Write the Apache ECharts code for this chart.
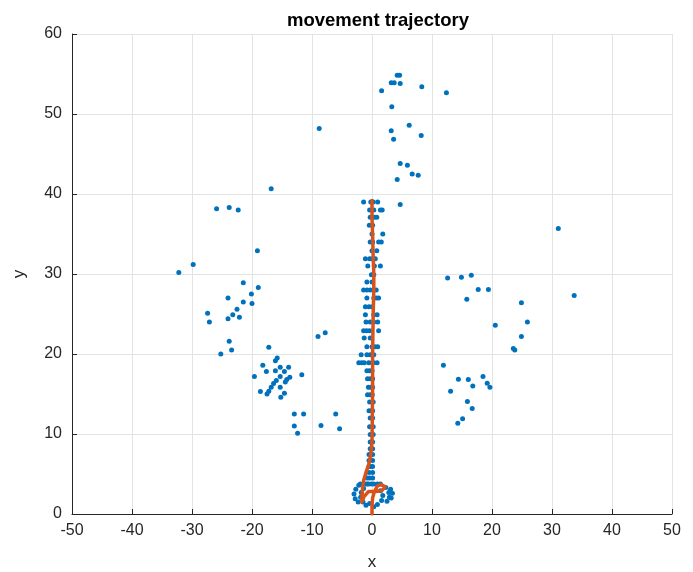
<!DOCTYPE html>
<html>
<head>
<meta charset="utf-8">
<script src="https://cdn.jsdelivr.net/npm/echarts@6/dist/echarts.min.js"></script>
<style>
html,body{margin:0;padding:0;background:#fff;}
#chart{width:693px;height:572px;}
</style>
</head>
<body>
<div id="chart"></div>
<script>
// ---- data ----
const xTicks = [-50,-40,-30,-20,-10,0,10,20,30,40,50];
const yTicks = [0,10,20,30,40,50,60];

const leftX = [-16.8,-25.9,-23.8,-22.3,-19.1,-29.8,-32.2,-21.45,-18.95,-20.1,-24.0,-21.45,-20.0,-22.5,-23.2,-22.1,-24.0,-27.4,-27.1,-23.8,-23.4,-25.2,-17.2,
  -18.2,-15.8,-16.1,-17.6,-16.1,-15.3,-13.9,-14.6,-19.6,-18.6,-11.7,-15.3,-15.95,-16.4,-16.8,-17.2,-17.5,-13.7,-14.2,-14.45,-15.3,-14.6,-15.2,
  -12.95,-11.4,-12.95,-12.4,-8.5,-6.05,-5.4,-8.8,-9.0,-7.8];
const leftY = [40.65,38.15,38.3,38.0,32.9,31.2,30.2,28.9,28.3,27.5,27.0,26.5,26.3,25.6,24.9,24.6,24.4,25.1,24.0,21.6,20.5,20.0,20.85,
  18.6,19.5,19.15,17.8,17.9,18.35,18.35,17.8,17.2,15.3,17.4,17.2,16.7,16.3,15.85,15.35,15.0,17.1,16.8,16.5,15.85,15.1,14.6,
  12.5,12.5,11.0,10.1,11.05,12.5,10.65,48.2,22.2,22.65];

const topX = [4.2,4.6,3.2,3.7,4.7,1.6,8.3,12.4,3.3,6.2,3.2,8.2,3.6,4.7,5.9,6.7,7.7,4.2,4.7];
const topY = [54.85,54.85,53.9,53.9,53.8,52.9,53.4,52.65,50.9,48.6,47.9,47.3,46.85,43.8,43.6,42.5,42.35,41.8,38.7];

const rightX = [31.05,12.6,14.9,16.55,17.7,19.4,15.8,33.7,24.9,25.9,20.55,24.9,23.55,23.8,11.9,14.4,16.05,18.5,19.2,19.65,16.8,13.1,15.9,16.7,15.1,14.3];
const rightY = [35.7,29.5,29.6,29.85,28.05,28.05,26.85,27.3,26.4,24.0,23.6,22.2,20.7,20.5,18.6,16.85,16.8,17.2,16.35,15.85,16.0,15.35,14.05,13.2,11.9,11.35];

const centerX = [-1.4,-0.2,0.2,0.95,
  -0.4,0.3,1.4,1.7,
  -0.3,0.4,0.8,
  -0.45,0.1,
  0,1.8,
  -0.3,0.1,1.1,1.55,
  0,0.8,
  -1.1,-0.4,0,0.55,
  -0.7,0.4,1.4,
  -0.1,0.3,
  -0.85,0,
  -1.4,-0.85,-0.3,0.3,0.7,
  -0.85,0.3,0.7,1.1,
  -1.1,-0.5,0,
  -1.1,0.3,0.85,
  -1.0,-0.3,0.3,0.95,
  -1.4,-0.9,-0.4,1.1,
  -1.3,-0.3,
  -0.85,0,0.5,0.95,
  -1.8,-0.85,-0.3,0.3,
  -2.2,-1.7,-1.3,-0.55,0,0.3,0.85,
  -0.85,-0.4,0,
  -0.75,-0.3,0.1,
  -0.6,-0.2,0.1,
  -0.75,-0.3,0.05,
  -0.4,0.2,
  -0.5,-0.1,0.1,
  -0.3,0.1,
  -0.4,0.2,
  -0.3,0.2,
  -0.3,0.1,
  -0.3,0.1,
  -0.5,-0.2,0.1,
  -0.5,0.1,
  -0.5,-0.2,0.1,
  -0.5,0.1,
  -0.8,-0.4,0.1,
  -1.2,-0.6,-0.1,
  -1.95,-1.4,-0.85,0.3,0.9,1.4,
  -2.2,-2.7,-3.0,-2.8,-2.3,
  -1.4,-1.8,-1.9,-1.5,-1.0,
  2.3,2.8,2.9,2.5,
  1.4,1.8,1.6,
  3.1,3.4,3.2,
  0.3,-0.4,0.9];
const centerY = [39.0,39.0,39.0,39.0,
  38.0,38.0,38.0,38.0,
  37.1,37.1,37.1,
  36.1,36.1,
  35.0,35.0,
  34.0,34.0,34.0,34.0,
  32.9,32.9,
  31.9,31.9,31.9,31.9,
  31.0,31.0,31.0,
  29.9,29.9,
  29.0,29.0,
  28.0,28.0,28.0,28.0,28.0,
  27.0,27.0,27.0,27.0,
  25.9,25.9,25.9,
  24.9,24.9,24.9,
  24.0,24.0,24.0,24.0,
  22.9,22.9,22.9,22.9,
  22.0,22.0,
  20.9,20.9,20.9,20.9,
  19.9,19.9,19.9,19.9,
  18.9,18.9,18.9,18.9,18.9,18.9,18.9,
  17.9,17.9,17.9,
  16.9,16.9,16.9,
  15.85,15.85,15.85,
  14.9,14.9,14.9,
  14.0,14.0,
  12.9,12.9,12.9,
  12.0,12.0,
  10.9,10.9,
  9.95,9.95,
  9.0,9.0,
  8.15,8.15,
  7.45,7.45,7.45,
  6.7,6.7,
  5.95,5.95,5.95,
  5.2,5.2,
  4.5,4.5,4.5,
  3.75,3.75,3.75,
  3.75,3.75,3.75,3.75,3.75,3.75,
  3.6,3.1,2.5,1.9,1.5,
  3.2,2.7,2.1,1.5,1.1,
  3.3,2.7,2.1,1.6,
  2.9,2.3,1.7,
  3.1,2.6,2.0,
  0.9,1.3,1.2];

const trajX = [0,0,0.1,0.4,0.9,1.5,2.2,1.6,0.5,-0.6,-1.3,-1.7,-1.6,-1.4,-1.0,-0.5,-0.2,0,0.05,0.1,0.1,0.2,0.3,0.3,0.2,0.1,0,0];
const trajY = [0,1,2,2.8,3.5,3.7,3.4,2.9,2.8,2.8,2.2,1.5,3.0,4.2,5.2,6.3,7.5,9,12,16,20,25,28,30,32,35,37,39.2];

// ---- build ----
function zip(xs, ys){ return xs.map((v,i)=>[v, ys[i]]); }
const scatterData = zip(leftX,leftY).concat(zip(topX,topY), zip(rightX,rightY), zip(centerX,centerY));
const trajData = zip(trajX,trajY);

const labelColor = '#262626';
const font = 'Liberation Sans, Arial, sans-serif';
const chart = echarts.init(document.getElementById('chart'), null, {renderer:'canvas'});
chart.setOption({
  animation:false,
  backgroundColor:'#ffffff',
  title:{
    text:'movement trajectory',
    left:373, top:6, textAlign:'center',
    textStyle:{fontFamily:font, fontWeight:'bold', fontSize:18.5, color:'#000'}
  },
  grid:{left:72, right:21, top:34, bottom:58, containLabel:false, outerBoundsMode:'none'},
  xAxis:{
    type:'value', min:-50, max:50, interval:10,
    name:'x', nameLocation:'middle', nameGap:40,
    nameTextStyle:{fontFamily:font, fontSize:17, color:labelColor},
    axisLine:{show:true, onZero:false, lineStyle:{color:labelColor, width:1}},
    axisTick:{show:true, inside:true, length:5, lineStyle:{color:labelColor}},
    axisLabel:{margin:9, fontFamily:font, fontSize:16, color:labelColor,
      formatter:function(v){return xTicks.indexOf(v)>=0 ? String(v) : '';}},
    splitLine:{show:true, lineStyle:{color:'#e3e3e3', width:1}}
  },
  yAxis:{
    type:'value', min:0, max:60, interval:10,
    name:'y', nameLocation:'middle', nameGap:44, nameRotate:90,
    nameTextStyle:{fontFamily:font, fontSize:17, color:labelColor},
    axisLine:{show:true, onZero:false, lineStyle:{color:labelColor, width:1}},
    axisTick:{show:true, inside:true, length:5, lineStyle:{color:labelColor}},
    axisLabel:{margin:10, fontFamily:font, fontSize:16, color:labelColor,
      formatter:function(v){return yTicks.indexOf(v)>=0 ? String(v) : '';}},
    splitLine:{show:true, lineStyle:{color:'#e3e3e3', width:1}}
  },
  series:[
    {
      type:'scatter', data:scatterData, symbol:'circle', symbolSize:5,
      itemStyle:{color:'#0072BD', opacity:1}, z:2
    },
    {
      type:'line', data:trajData, showSymbol:false, symbol:'none', smooth:false,
      lineStyle:{color:'#D95319', width:3.5, cap:'round', join:'round'}, itemStyle:{color:'#D95319'}, z:3
    }
  ]
});
</script>
</body>
</html>
